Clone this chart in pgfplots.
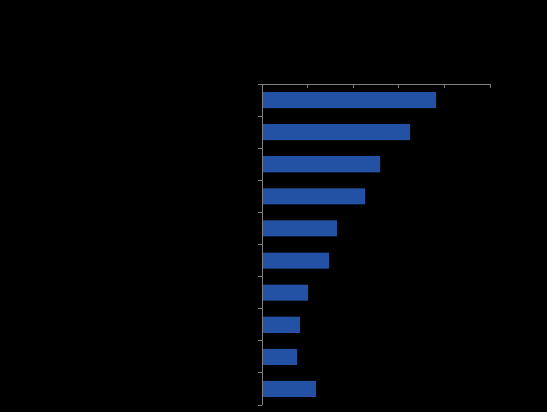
\documentclass[border=0pt]{standalone}
\usepackage{pgfplots}
\pgfplotsset{compat=1.18}
\definecolor{barblue}{RGB}{35,82,164}
\definecolor{axgray}{RGB}{128,128,128}
\begin{document}
\begin{tikzpicture}[x=1pt,y=1pt]
\fill[black] (0,0) rectangle (547,412);
\begin{axis}[
  at={(262pt,7pt)}, anchor=south west,
  width=228pt, height=321pt, scale only axis,
  xmin=0, xmax=5, ymin=0.5, ymax=10.5,
  axis x line*=top, axis y line*=left,
  axis line style={axgray, line width=0.8pt, -},
  xtick={0,1,2,3,4,5}, ytick={0.5,1.5,...,10.5},
  xticklabels={}, yticklabels={},
  xtick align=inside, ytick align=inside, major tick length=4pt,
  tick style={axgray, line width=0.8pt},
  axis on top,
  xbar, bar width=0.5,
]
\addplot[fill=barblue, draw=none] coordinates {
(3.82,10) (3.25,9) (2.59,8) (2.26,7) (1.64,6) (1.47,5) (1.01,4) (0.83,3) (0.77,2) (1.18,1)
};
\end{axis}
\end{tikzpicture}
\end{document}
